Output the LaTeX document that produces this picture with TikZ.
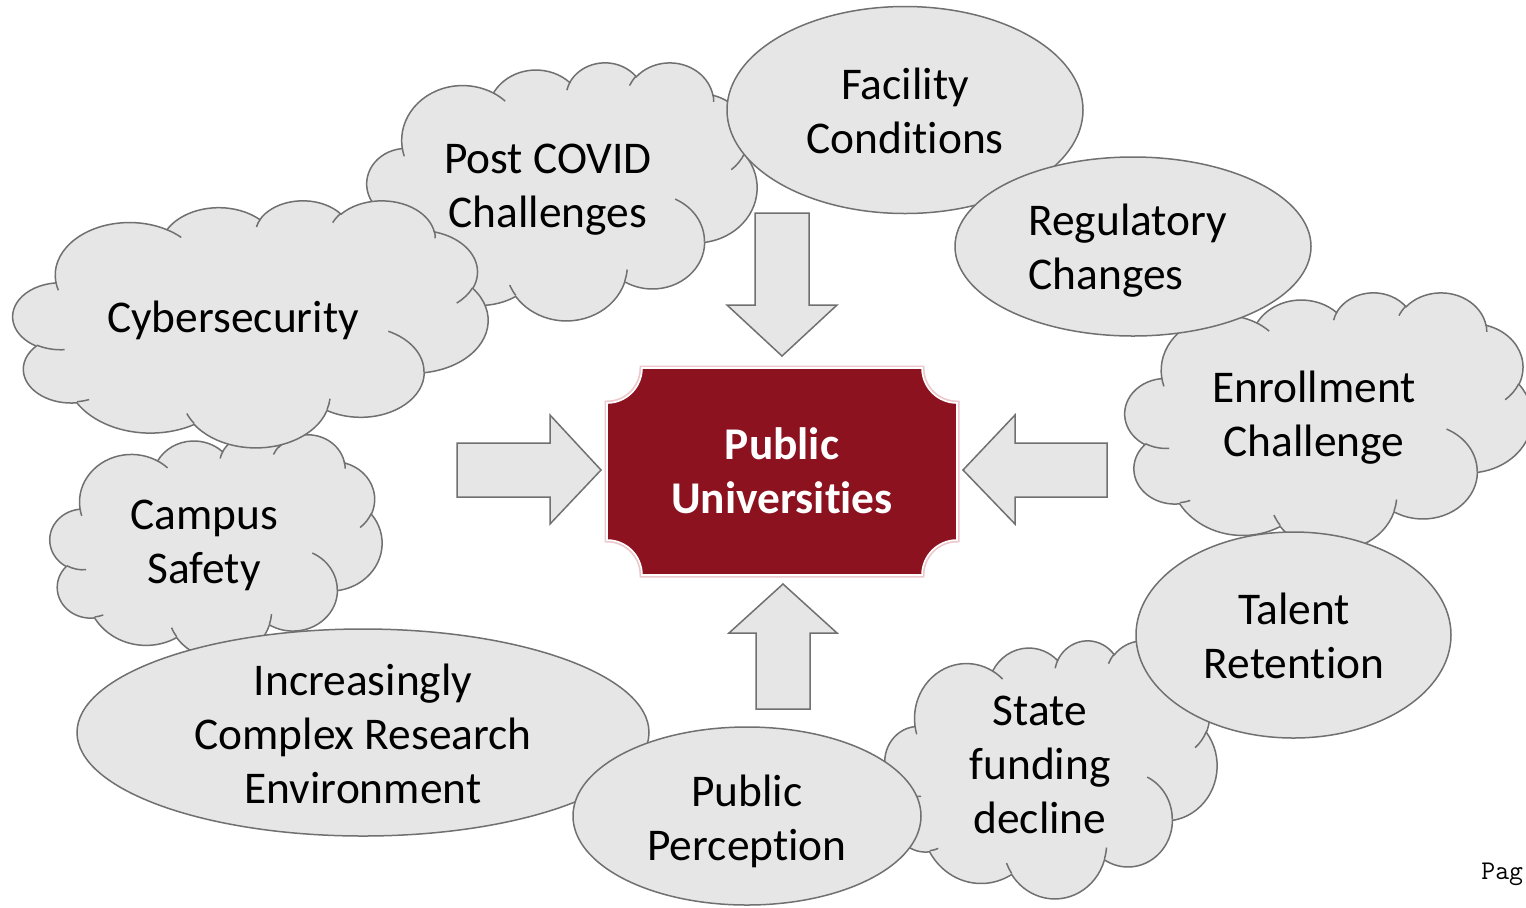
\documentclass[tikz,border=0pt]{standalone}
\usepackage{fontspec}
\setmainfont{Carlito}[Ligatures=NoCommon]
\usetikzlibrary{shapes.geometric}
\definecolor{cfill}{RGB}{230,230,230}
\definecolor{cline}{RGB}{112,112,112}
\definecolor{ured}{RGB}{140,18,32}
\definecolor{uglow}{RGB}{236,200,204}

% Office-style arc: wR hR startAngle sweepAngle (visual angles, y down)
\newcommand\oarc[4]{arc[x radius=#1, y radius=#2,
  start angle={atan2(#1*sin(#3),#2*cos(#3))},
  delta angle={mod(atan2(#1*sin(#3+#4),#2*cos(#3+#4))-atan2(#1*sin(#3),#2*cos(#3))+720,360)}]}

\newcommand\cloudoutline{(39.00,143.70)
 \oarc{67.53}{91.90}{-190.4875}{123.7805}
 \oarc{53.33}{72.67}{-144.1024}{89.9452}
 \oarc{43.65}{59.45}{-145.8079}{99.7230}
 \oarc{48.57}{65.95}{-130.9861}{117.2417}
 \oarc{53.33}{72.73}{-78.7089}{109.0269}
 \oarc{67.75}{92.20}{-46.2673}{130.2690}
 \oarc{57.85}{78.67}{0.6250}{114.0333}
 \oarc{67.52}{92.15}{22.4516}{115.1726}
 \oarc{77.20}{105.43}{66.2426}{75.7110}
 \oarc{43.60}{59.18}{-274.9421}{146.7356}
 \oarc{43.45}{59.45}{-246.8285}{152.5189} -- cycle}

\newcommand\cloudcreases{
 (46.93,261.77) \oarc{43.45}{59.45}{86.742}{26.4295}
 (69.28,348.99) \oarc{43.60}{59.18}{73.6105}{11.4475}
 (164.78,390.90) \oarc{67.52}{92.15}{137.6242}{14.0811}
 (288.27,347.51) \oarc{67.52}{92.15}{6.4533}{15.9984}
 (341.29,229.54) \oarc{57.85}{78.67}{-70.2924}{70.9174}
 (417.98,153.54) \oarc{53.33}{72.73}{30.3180}{27.7515}
 (383.24,54.26) \oarc{48.57}{65.95}{-13.7443}{14.8589}
 (290.78,39.52) \oarc{48.57}{65.95}{-149.1815}{18.1954}
 (221.41,47.20) \oarc{43.65}{59.45}{-163.4943}{17.6864}
 (140.00,51.92) \oarc{67.53}{91.90}{-66.7070}{12.3194}
 (41.27,157.89) \oarc{67.53}{91.90}{157.6544}{11.8582}}

% left top width height (px)
\newcommand\ocloud[4]{%
 \begin{scope}[shift={(#1,#2)}, xscale=#3/432, yscale=#4/432]
  \draw[shp] \cloudoutline;
  \draw[crease] \cloudcreases;
 \end{scope}}

\newcommand\plaque{(642,368) -- (922,368) arc[start angle=180, end angle=270, radius=17.5pt]
 -- (957,540) arc[start angle=90, end angle=180, radius=17.5pt]
 -- (642,575) arc[start angle=0, end angle=90, radius=17.5pt]
 -- (607,403) arc[start angle=270, end angle=360, radius=17.5pt] -- cycle}

\begin{document}
\begin{tikzpicture}[x=0.5pt, y=-0.5pt,
  shp/.style={draw=cline, fill=cfill, line width=0.75pt},
  crease/.style={draw=cline, line width=0.75pt},
  txt/.style={align=center, inner sep=0pt, font=\fontsize{22.7}{27}\selectfont},
  oval/.style={ellipse, draw=cline, fill=cfill, line width=0.75pt, inner sep=0pt, outer sep=0pt},
  barrow/.style={draw=cline, fill=cfill, line width=0.75pt, line join=miter}]

\useasboundingbox[fill=white] (0,0) rectangle (1526,907);

% Post COVID
\ocloud{367}{62}{390}{258}
\node[txt] (covid) at (548,190) {Post COVID\\Challenges};

% Facility Conditions
\node[oval, minimum width=178pt, minimum height=103.5pt] (facE) at (905,110) {};
\node[txt] (fac) at (905,111) {Facility\\Conditions};

% Enrollment
\ocloud{1125}{292}{407}{258}
\node[txt] (enr) at (1314,418) {Enrollment\\Challenge};

% Regulatory
\node[oval, minimum width=178pt, minimum height=89.5pt] (regE) at (1133,246.5) {};
\node[txt, align=left, anchor=west] (reg) at (1028,251) {Regulatory\\Changes};

% Campus Safety
\ocloud{50}{434}{332}{224}
\node[txt] (campus) at (204,545) {Campus\\Safety};

% Cybersecurity
\ocloud{13}{200}{475}{247}
\node[txt] (cyber) at (233,320) {Cybersecurity};

% Increasingly Complex Research Environment
\node[oval, minimum width=286pt, minimum height=103.5pt] (resE) at (363,732.5) {};
\node[txt] (res) at (363,734) {Increasingly\\Complex Research\\Environment};

% State funding decline
\ocloud{885}{640}{332}{258}
\node[txt] (state) at (1040,765) {State\\funding\\decline};

% Talent Retention
\node[oval, minimum width=157.5pt, minimum height=103pt] (talE) at (1293.5,635) {};
\node[txt] (tal) at (1294,636) {Talent\\Retention};

% Public Perception
\node[oval, minimum width=174pt, minimum height=89pt] (ppE) at (747,816) {};
\node[txt] (pp) at (747,821) {Public\\Perception};

% central plaque
\draw[uglow, line width=2.5pt] \plaque;
\draw[fill=ured, draw=white, line width=0.8pt] \plaque;
\node[txt, text=white, font=\fontsize{22.7}{27}\selectfont\bfseries] (pu) at (782,471) {Public\\Universities};

% block arrows
\draw[barrow] (755,213) -- (809,213) -- (809,305) -- (837,305) -- (782,356) -- (727,305) -- (755,305) -- cycle;
\draw[barrow] (457,443) -- (550,443) -- (550,415) -- (601,470) -- (550,524) -- (550,497) -- (457,497) -- cycle;
\draw[barrow] (1107,443) -- (1015,443) -- (1015,415) -- (963,470) -- (1015,524) -- (1015,497) -- (1107,497) -- cycle;
\draw[barrow] (756,709) -- (756,633) -- (729,633) -- (783,584) -- (837,633) -- (810,633) -- (810,709) -- cycle;

\node[font=\ttfamily\fontsize{13.5}{15}\selectfont, anchor=base west, inner sep=0pt] (pag) at (1481,879) {Pag};
\end{tikzpicture}
\end{document}
